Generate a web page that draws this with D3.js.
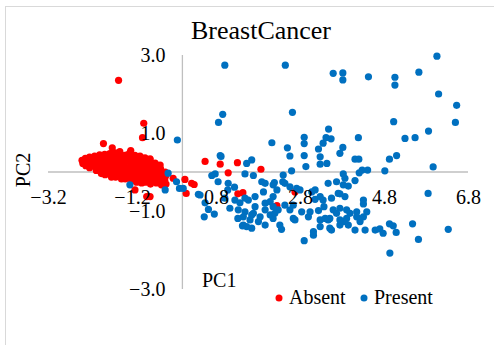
<!DOCTYPE html>
<html>
<head>
<meta charset="utf-8">
<script src="https://cdn.jsdelivr.net/npm/d3@7"></script>
<style>
  body { margin: 0; background: #fff; }
  svg text { font-family: "Liberation Serif", "Times New Roman", serif !important; fill: #000; }
</style>
</head>
<body>
<script>
// tick labels
const xTicks = [-3.2, -1.2, 0.8, 2.8, 4.8, 6.8];
const yTicks = [3.0, 1.0, -1.0, -3.0];
const seriesNames = ["Absent", "Present"];

// Absent (PC1, PC2)
const absent = [
  [-1.52,2.35],[-0.92,1.25],[-0.95,0.88],[-1.88,0.73],[-1.67,0.62],[-1.23,0.55],[-1.31,0.44],[-0.77,0.34],
  [0.54,0.27],[0.90,0.20],[1.31,0.24],[1.87,0.07],[1.09,-0.02],[0.28,-0.32],[0.09,-0.55],[1.32,-0.56],
  [1.44,-0.53],[2.25,-0.86],[2.68,-0.51],[0.06,-0.19],[-0.57,0.05],[-0.22,-0.16],[0.22,-0.29],[-0.77,-0.63],
  [-0.85,-0.63],[-1.13,-0.46],
  [-2.39,0.30],[-2.37,0.22],[-2.31,0.35],[-2.29,0.26],[-2.30,0.16],[-2.21,0.38],[-2.20,0.28],[-2.18,0.19],
  [-2.21,0.11],[-2.09,0.41],[-2.07,0.31],[-2.08,0.21],[-2.06,0.11],[-2.05,0.04],[-1.97,0.44],[-1.95,0.34],
  [-1.96,0.23],[-1.94,0.13],[-1.95,0.03],[-1.93,-0.04],[-1.85,0.45],[-1.84,0.35],[-1.83,0.24],[-1.85,0.14],
  [-1.82,0.04],[-1.84,-0.07],[-1.73,0.47],[-1.71,0.36],[-1.72,0.26],[-1.70,0.15],[-1.73,0.05],[-1.71,-0.05],
  [-1.69,-0.13],[-1.60,0.49],[-1.59,0.38],[-1.61,0.28],[-1.58,0.18],[-1.60,0.08],[-1.57,-0.03],[-1.59,-0.13],
  [-1.49,0.52],[-1.48,0.41],[-1.50,0.31],[-1.47,0.21],[-1.49,0.10],[-1.46,0.00],[-1.48,-0.10],[-1.45,-0.18],
  [-1.37,0.43],[-1.36,0.33],[-1.38,0.23],[-1.35,0.12],[-1.37,0.02],[-1.34,-0.08],[-1.36,-0.18],[-1.25,0.49],
  [-1.24,0.38],[-1.26,0.28],[-1.23,0.18],[-1.25,0.08],[-1.22,-0.03],[-1.24,-0.13],[-1.21,-0.23],[-1.13,0.43],
  [-1.12,0.33],[-1.14,0.23],[-1.11,0.12],[-1.13,0.02],[-1.10,-0.08],[-1.12,-0.18],[-1.09,-0.26],[-1.01,0.41],
  [-1.00,0.31],[-1.02,0.21],[-0.99,0.10],[-1.01,0.00],[-0.98,-0.10],[-1.00,-0.21],[-0.97,-0.28],[-0.89,0.36],
  [-0.88,0.26],[-0.90,0.15],[-0.87,0.05],[-0.89,-0.05],[-0.86,-0.15],[-0.88,-0.26],[-0.77,0.31],[-0.76,0.21],
  [-0.78,0.10],[-0.75,0.00],[-0.77,-0.10],[-0.74,-0.21],[-0.76,-0.31],[-0.65,0.23],[-0.64,0.13],[-0.66,0.03],
  [-0.63,-0.08],[-0.65,-0.18],[-0.62,-0.28],[-0.53,0.18],[-0.52,0.08],[-0.54,-0.03],[-0.51,-0.13],[-0.53,-0.23],
  [-0.50,-0.33],[-0.41,0.00],[-0.40,-0.10],[-0.42,-0.21],[-0.39,-0.31]
];

// Present (PC1, PC2)
const present = [
  [1.01,2.74],[2.45,2.74],[3.59,2.53],[3.82,2.54],[3.82,2.36],[4.43,2.44],[5.06,2.43],[5.06,2.23],
  [5.63,2.56],[6.06,2.97],[6.10,2.00],[6.53,1.71],[0.96,1.48],[0.86,1.27],[2.62,1.53],[5.03,1.29],
  [6.50,1.27],[5.86,1.05],[5.54,0.88],[5.30,0.86],[4.19,0.88],[3.82,0.63],[3.48,1.10],[3.54,0.85],
  [3.35,0.74],[3.24,0.59],[3.42,0.88],[3.75,0.48],[5.10,0.42],[2.13,0.75],[2.50,0.62],[2.90,0.89],
  [2.90,0.73],[2.56,0.41],[2.90,0.42],[0.90,0.42],[-0.12,0.82],[1.65,0.31],[1.53,0.22],[0.92,0.40],
  [4.11,0.33],[4.20,0.33],[4.93,0.33],[4.28,0.05],[4.41,0.05],[4.21,-0.02],[4.82,0.03],[5.97,0.13],
  [3.83,-0.05],[3.87,-0.16],[3.67,-0.25],[3.83,-0.33],[3.95,-0.36],[4.11,-0.22],[5.85,-0.55],[4.31,-0.72],
  [4.31,-0.82],[3.71,-0.55],[3.87,-0.63],[3.55,-0.67],[3.59,-0.97],[3.67,-1.06],[3.91,-0.97],[3.99,-1.06],
  [4.15,-1.15],[4.39,-1.02],[4.31,-1.15],[3.83,-1.27],[3.75,-1.36],[3.95,-1.36],[4.23,-1.27],[4.11,-1.49],
  [4.35,-1.49],[4.59,-1.49],[4.70,-1.46],[4.78,-1.57],[4.93,-1.33],[5.02,-1.38],[5.09,-1.55],[5.48,-1.33],
  [5.62,-1.73],[6.33,-1.47],[4.94,-2.08],[3.55,-1.49],[3.51,-1.19],[2.94,0.14],[3.28,0.20],[3.44,0.22],
  [2.60,0.03],[2.40,-0.08],[2.39,-0.25],[1.89,-0.25],[2.16,-0.33],[3.47,-0.29],[2.25,-0.46],[2.56,-0.38],
  [2.72,-0.42],[3.16,-0.46],[3.28,-0.63],[3.75,-0.56],[3.16,-0.70],[3.35,-0.72],[3.37,-0.89],[3.24,-0.99],
  [3.00,-1.15],[2.84,-1.02],[2.64,-1.19],[2.56,-0.97],[2.16,-0.89],[1.97,-0.80],[1.73,-0.89],[1.57,-0.72],
  [1.49,-1.02],[1.65,-1.10],[1.85,-1.15],[2.09,-1.10],[2.32,-1.36],[2.36,-1.47],[1.65,-1.44],[1.45,-1.36],
  [3.75,-0.93],[4.15,-1.02],[3.75,-1.23],[3.91,-1.19],[3.47,-1.23],[3.51,-1.44],[3.28,-1.23],[3.28,-1.40],
  [3.12,-1.62],[2.90,-1.76],[2.68,-1.23],[2.64,-0.85],[3.08,-0.51],[0.78,-0.05],[0.70,-0.09],[1.49,-0.05],
  [1.69,-0.09],[0.85,-0.25],[1.09,-0.29],[1.08,-0.46],[1.24,-0.39],[0.38,-0.57],[0.54,-0.79],[0.62,-0.96],
  [0.52,-1.15],[0.76,-1.08],[1.13,-0.93],[1.33,-0.97],[1.32,-1.19],[1.43,-1.38],[1.53,-1.40],[1.61,-1.23],
  [1.69,-1.06],[1.49,-0.67],[1.73,-0.63],[1.93,-0.51],[1.97,-0.29],[2.19,-0.27],[2.44,-0.29],[2.80,-0.46],
  [2.16,-0.63],[2.09,-0.76],[2.28,-0.97],[2.44,-0.85],[1.97,-0.97],[2.16,-1.19],[3.04,-1.02],[3.40,-1.19],
  [3.12,-1.53],[3.28,0.39],[1.45,-1.15],[1.81,-1.27],[1.97,-1.36],[2.20,-1.06],[1.25,-0.72],[1.01,-0.67],
  [1.37,-0.79],[-0.34,-0.03],[-1.25,-0.33],[-0.41,-0.46],[-0.14,-0.25],[0.02,-0.42],[0.42,-0.59],[-0.07,-0.42]
];

const W = 494, H = 345;
const svg = d3.select("body").append("svg")
  .attr("width", W)
  .attr("height", H);

// outer chart border
svg.append("rect")
  .attr("x", 5.5).attr("y", 6.5)
  .attr("width", W + 10).attr("height", H + 10)
  .attr("fill", "#fff")
  .attr("stroke", "#d9d9d9");

const x = d3.scaleLinear().domain([-3.2, 6.8]).range([48, 468]);
const y = d3.scaleLinear().domain([-3, 3]).range([289, 55]);
const color = d3.scaleOrdinal().domain(seriesNames).range(["#ff0000", "#0070c0"]);

// axis lines crossing at zero (under the points)
svg.append("line")
  .attr("x1", x(-3.2)).attr("x2", x(6.8))
  .attr("y1", y(0)).attr("y2", y(0))
  .attr("stroke", "#bfbfbf").attr("stroke-width", 1.3);
svg.append("line")
  .attr("x1", x(0)).attr("x2", x(0))
  .attr("y1", y(3)).attr("y2", y(-3))
  .attr("stroke", "#bfbfbf").attr("stroke-width", 1.3);

// points: Absent first, Present on top
svg.append("g").selectAll("circle")
  .data(absent)
  .join("circle")
  .attr("cx", d => x(d[0]))
  .attr("cy", d => y(d[1]))
  .attr("r", 3.6)
  .attr("fill", color("Absent"));

svg.append("g").selectAll("circle")
  .data(present)
  .join("circle")
  .attr("cx", d => x(d[0]))
  .attr("cy", d => y(d[1]))
  .attr("r", 3.6)
  .attr("fill", color("Present"));

// tick labels drawn over the points
const xAxis = svg.append("g")
  .attr("transform", `translate(0,${y(0)})`)
  .call(d3.axisBottom(x).tickValues(xTicks).tickSize(0).tickSizeOuter(0)
    .tickPadding(18).tickFormat(d3.format(".1f")));

const yAxis = svg.append("g")
  .attr("transform", `translate(${x(0)},0)`)
  .call(d3.axisLeft(y).tickValues(yTicks).tickSize(0).tickSizeOuter(0)
    .tickPadding(17).tickFormat(d3.format(".1f")));

[xAxis, yAxis].forEach(g => {
  g.attr("font-family", null).attr("font-size", null);
  g.select(".domain").remove();
  g.selectAll("text").style("font-size", "20px");
});

// title and axis titles
svg.append("text")
  .attr("x", 261).attr("y", 39)
  .attr("text-anchor", "middle")
  .style("font-size", "26px")
  .text("BreastCancer");

svg.append("text")
  .attr("x", 202).attr("y", 287)
  .style("font-size", "20px")
  .text("PC1");

svg.append("text")
  .attr("transform", "translate(30,170) rotate(-90)")
  .attr("text-anchor", "middle")
  .style("font-size", "20px")
  .text("PC2");

// legend
const legend = svg.append("g");
const legendX = [279, 364];
seriesNames.forEach((name, i) => {
  legend.append("circle")
    .attr("cx", legendX[i]).attr("cy", 298)
    .attr("r", 3.5)
    .attr("fill", color(name));
  legend.append("text")
    .attr("x", legendX[i] + 10).attr("y", 303.5)
    .style("font-size", "20px")
    .text(name);
});
</script>
</body>
</html>
